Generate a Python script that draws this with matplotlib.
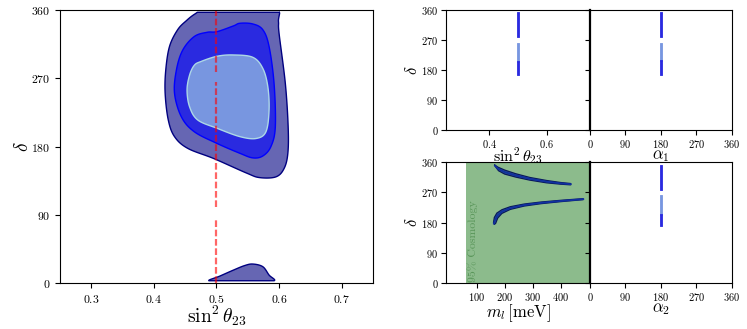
import matplotlib
matplotlib.use("Agg")
import matplotlib.pyplot as plt
import numpy as np

plt.rcParams['font.family'] = 'serif'
plt.rcParams['font.serif'] = ['cmr10', 'DejaVu Serif']
plt.rcParams['mathtext.fontset'] = 'cm'
plt.rcParams['axes.formatter.use_mathtext'] = True

# --- main panel: contour outlines (sin^2 theta23, delta)
# (the outer one runs past the top edge and is cut at 357)
outer_s23 = [0.466, 0.490, 0.540, 0.596, 0.599, 0.600, 0.610, 0.6145, 0.614, 0.608,
             0.595, 0.569, 0.548, 0.496, 0.454, 0.433, 0.423, 0.418, 0.419, 0.425,
             0.438, 0.452]
outer_dcp = [355, 366, 368, 366, 345, 329, 263, 206, 171, 151,
             140, 139, 145, 164, 177.6, 193, 215, 250, 281, 312,
             334, 346]

mid_s23 = [0.501, 0.527, 0.5375, 0.558, 0.574, 0.584, 0.592, 0.594, 0.587, 0.574,
           0.558, 0.5375, 0.501, 0.4645, 0.444, 0.433, 0.436, 0.446, 0.4645, 0.485]
mid_dcp = [331.5, 339, 342.5, 341.6, 334, 312, 263, 206, 180, 167.5,
           165, 171, 184, 199.5, 219, 250, 281, 307, 325, 330.6]

inner_s23 = [0.475, 0.501, 0.527, 0.558, 0.574, 0.582, 0.584, 0.579, 0.5635, 0.5375,
             0.501, 0.470, 0.457, 0.453, 0.457, 0.4645]
inner_dcp = [292, 299, 300.7, 297.6, 283, 259, 228, 199.5, 190.6, 193,
             204, 215, 232.5, 254.5, 274, 287]

blob_s23 = [0.488, 0.505, 0.527, 0.545, 0.558, 0.574, 0.584, 0.592, 0.560, 0.520]
blob_dcp = [3, 9, 17, 23, 25, 21.5, 10.5, 3, 3, 3]

# red dashed line at maximal mixing (with gaps)
red_s23 = 0.5
red_segments = [(0, 85), (100, 265), (278, 360)]

# --- narrow strips in the small panels: (delta_low, delta_high, level)
strips_s23 = [(278, 355, 'mid'), (205, 262, 'inner'), (165, 208, 'mid')]
strips_a1 = [(280, 355, 'mid'), (208, 260, 'inner'), (165, 210, 'mid')]
strips_a2 = [(277, 351, 'mid'), (202, 262, 'inner'), (170, 204, 'mid')]

# --- lightest neutrino mass panel (m_l [meV], delta): two bands
up_top_m = [163, 175, 200, 240, 290, 350, 400, 436]
up_top_d = [352, 345, 336, 325, 314, 305, 299, 296]
up_bot_m = [436, 400, 350, 290, 240, 200, 178, 168]
up_bot_d = [292, 294, 298, 306, 315, 324, 334, 345]

lo_top_m = [160, 163, 172, 190, 220, 270, 330, 400, 481]
lo_top_d = [180, 195, 208, 218, 227, 235, 241, 246, 251]
lo_bot_m = [481, 400, 330, 270, 220, 190, 175, 168, 163]
lo_bot_d = [248, 242, 236, 229, 219, 207, 193, 178, 174]

cosmo_bound = 60  # meV

colors = {'outer': ('#6666b3', 'navy'), 'mid': ('#2a2ae0', 'blue'),
          'inner': ('#7896e0', 'lightblue')}


def smooth_closed(xs, ys, n=24):
    # closed Catmull-Rom curve through the read-off points
    P = np.column_stack([xs, ys]).astype(float)
    N = len(P)
    t = np.linspace(0, 1, n, endpoint=False)[:, None]
    out = []
    for i in range(N):
        p0, p1, p2, p3 = P[i - 1], P[i], P[(i + 1) % N], P[(i + 2) % N]
        out.append(0.5 * (2 * p1 + (-p0 + p2) * t + (2 * p0 - 5 * p1 + 4 * p2 - p3) * t ** 2
                          + (-p0 + 3 * p1 - 3 * p2 + p3) * t ** 3))
    out = np.vstack(out)
    return out[:, 0], out[:, 1]


fig = plt.figure(figsize=(7.47, 3.29), dpi=100)
ax = fig.add_axes([0.0803, 0.1398, 0.419, 0.8298])
ax_s = fig.add_axes([0.597, 0.6049, 0.1928, 0.3647])
ax_a1 = fig.add_axes([0.7898, 0.6049, 0.190, 0.3647])
ax_m = fig.add_axes([0.597, 0.1398, 0.1928, 0.3678])
ax_a2 = fig.add_axes([0.7898, 0.1398, 0.190, 0.3678])

# main panel
for xs, ys, lev in [(outer_s23, outer_dcp, 'outer'), (mid_s23, mid_dcp, 'mid'),
                    (inner_s23, inner_dcp, 'inner'), (blob_s23, blob_dcp, 'outer')]:
    fc, ec = colors[lev]
    sx, sy = smooth_closed(xs, ys)
    sy = np.clip(sy, 3, 357)
    ax.fill(sx, sy, facecolor=fc, edgecolor=ec, lw=1.0)
for lo, hi in red_segments:
    ax.plot([red_s23, red_s23], [lo, hi], color='red', alpha=0.6, ls='--', lw=1.6,
            dashes=(3, 1.2))
ax.set_xlim(0.25, 0.75)
ax.set_ylim(0, 360)
ax.set_xticks([0.3, 0.4, 0.5, 0.6, 0.7])
ax.set_yticks([0, 90, 180, 270, 360])
ax.tick_params(labelsize=8.5)
ax.set_xlabel(r'$\sin^2\theta_{23}$', fontsize=14, labelpad=-1)
ax.set_ylabel(r'$\delta$', fontsize=14, labelpad=-1)


def draw_strips(a, centre, halfw, strips):
    for lo, hi, lev in strips:
        fc, ec = colors[lev]
        y = np.array([lo, hi])
        a.fill_betweenx(y, centre - halfw, centre + halfw, facecolor=fc,
                        edgecolor=fc, lw=0.6)


draw_strips(ax_s, 0.5, 0.0025, strips_s23)
draw_strips(ax_a1, 180, 1.8, strips_a1)
draw_strips(ax_a2, 180, 1.8, strips_a2)

# mass panel
ax_m.axvspan(cosmo_bound, 520, color='#8cbb8c', lw=0, zorder=0)
ax_m.text(cosmo_bound + 6, 3, '95% Cosmology', rotation=90, color='#5a965a',
          fontsize=8.5, ha='left', va='bottom')
for tm, td, bm, bd in [(up_top_m, up_top_d, up_bot_m, up_bot_d),
                       (lo_top_m, lo_top_d, lo_bot_m, lo_bot_d)]:
    ax_m.fill(tm + bm, td + bd, facecolor='#2f5c8c', edgecolor='#0a1a5a', lw=0.9)
    mid_m = [(a + b) / 2 for a, b in zip(tm, bm[::-1])]
    mid_d = [(a + b) / 2 for a, b in zip(td, bd[::-1])]
    ax_m.plot(mid_m, mid_d, color='#1030a0', lw=1.3)
ax_m.set_xlim(-10, 505)
ax_m.set_xticks([100, 200, 300, 400])

for a in [ax_s, ax_m]:
    a.set_ylim(0, 360)
    a.set_yticks([0, 90, 180, 270, 360])
    a.tick_params(labelsize=7.5, pad=2)
    a.set_ylabel(r'$\delta$', fontsize=12, labelpad=1)
ax_s.set_xlim(0.25, 0.75)
ax_s.set_xticks([0.4, 0.6])
ax_s.set_xlabel(r'$\sin^2\theta_{23}$', fontsize=11.5, labelpad=-3)
ax_m.set_xlabel(r'$m_l\,[\mathrm{meV}]$', fontsize=12, labelpad=0)

for a, lab in [(ax_a1, r'$\alpha_1$'), (ax_a2, r'$\alpha_2$')]:
    a.set_xlim(0, 360)
    a.set_ylim(0, 360)
    a.set_xticks([0, 90, 180, 270, 360])
    a.set_yticks([0, 90, 180, 270, 360])
    a.set_yticklabels([])
    a.tick_params(labelsize=7.5, pad=2)
    a.set_xlabel(lab, fontsize=12, labelpad=-1)
    a.spines['left'].set_linewidth(1.6)

fig.savefig('out.png', dpi=100)
